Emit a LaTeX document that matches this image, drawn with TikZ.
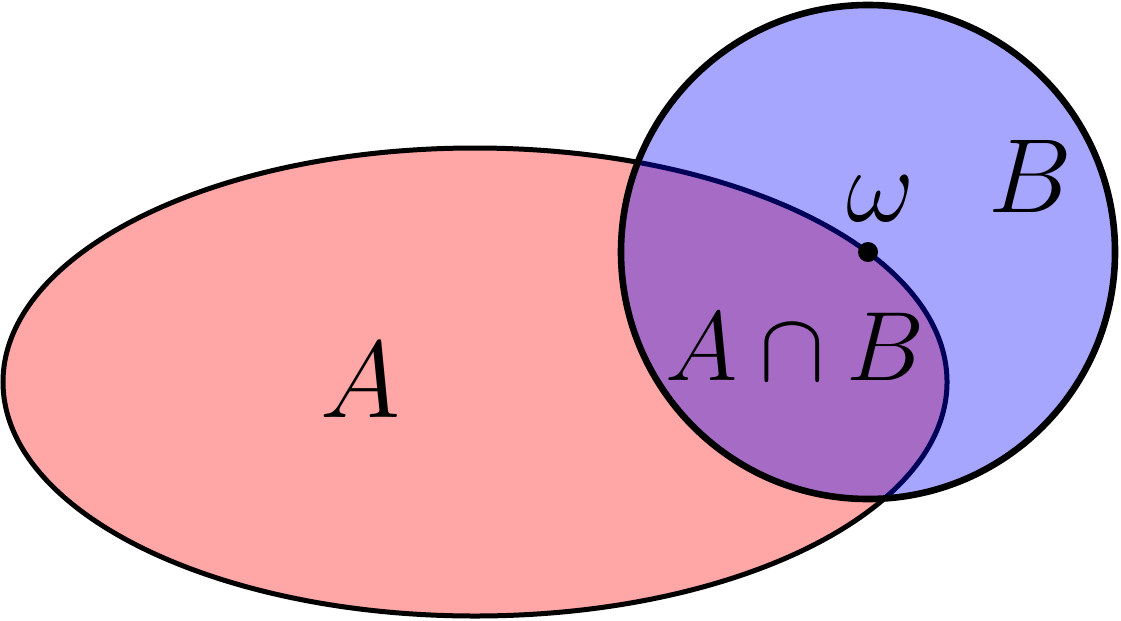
\documentclass[tikz,border=0pt]{standalone}
\usepackage{fix-cm}
\begin{document}
\begin{tikzpicture}
\useasboundingbox (0,0) rectangle (11.21,6.20);
\tikzset{
  setA/.style={fill=red!35, draw=black, line width=0.05cm},
  setB/.style={fill=blue, fill opacity=0.35, draw=black, draw opacity=1, line width=0.066cm},
  lbl/.style={inner sep=0pt, text=black, text opacity=1}
}
\path[setA] (4.75,2.38) ellipse [x radius=4.72, y radius=2.34];
\path[setB] (8.68,3.68) circle [radius=2.47];
\fill[black] (8.68,3.68) circle [radius=0.1];
\coordinate (w) at (8.68,3.68);
\node[lbl] (la) at (3.60,2.40) {\fontsize{31}{36}\selectfont$A$};
\node[lbl] (lab) at (7.95,2.73) {\fontsize{28}{33}\selectfont$A\cap B$};
\node[lbl] (lb) at (10.30,4.44) {\fontsize{30}{35}\selectfont$B$};
\node[lbl] (lw) at (8.81,4.21) {\fontsize{30}{35}\selectfont$\omega$};
\end{tikzpicture}
\end{document}
